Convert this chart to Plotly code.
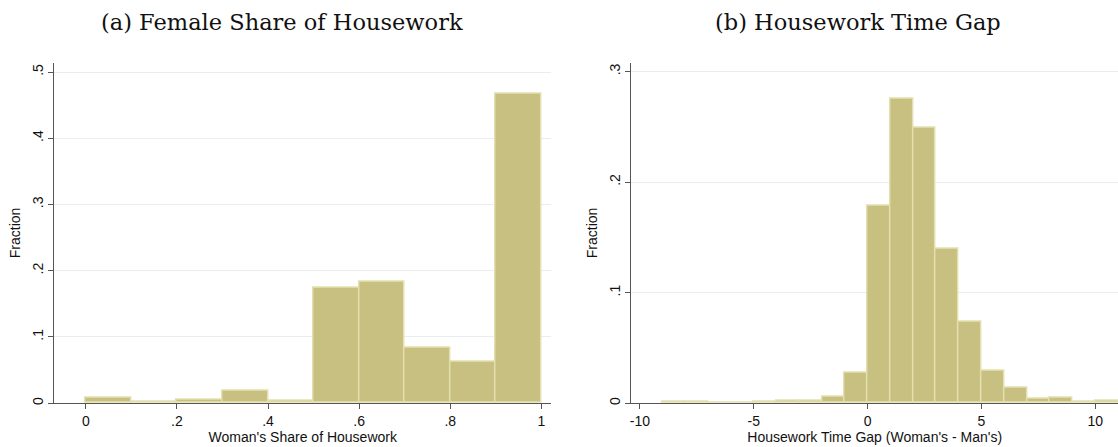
import plotly.graph_objects as go

# Panel (a): Woman's share of housework, bins of width 0.1
share_left_edges = [0.0, 0.1, 0.2, 0.3, 0.4, 0.5, 0.6, 0.7, 0.8, 0.9]
share_fraction = [0.0085, 0.0015, 0.0045, 0.0195, 0.0035, 0.175, 0.183, 0.083, 0.062, 0.467]
share_bin_width = 0.1

# Panel (b): Housework time gap, bins of width 1
gap_left_edges = [-9, -8, -7, -6, -5, -4, -3, -2, -1, 0, 1, 2, 3, 4, 5, 6, 7, 8, 9, 10]
gap_fraction = [0.0012, 0.0012, 0.0, 0.0, 0.001, 0.0018, 0.0018, 0.0054, 0.0274, 0.1788,
                0.2756, 0.2495, 0.1395, 0.0736, 0.029, 0.0141, 0.0039, 0.0048, 0.001, 0.0018]
gap_bin_width = 1

share_ticks = [0, 0.2, 0.4, 0.6, 0.8, 1]
share_ticklabels = ["0", ".2", ".4", ".6", ".8", "1"]
share_yticks = [0, 0.1, 0.2, 0.3, 0.4, 0.5]
share_yticklabels = ["0", ".1", ".2", ".3", ".4", ".5"]
gap_ticks = [-10, -5, 0, 5, 10]
gap_ticklabels = ["-10", "-5", "0", "5", "10"]
gap_yticks = [0, 0.1, 0.2, 0.3]
gap_yticklabels = ["0", ".1", ".2", ".3"]

titles = ["(a) Female Share of Housework", "(b) Housework Time Gap"]
xtitles = ["Woman's Share of Housework", "Housework Time Gap (Woman's - Man's)"]

FILL = "#c8c080"
EDGE = "#e3dfb0"
AXIS = "#555555"
GRID = "#e6eef2"

fig = go.Figure()
fig.add_trace(go.Bar(
    x=[e + share_bin_width / 2 for e in share_left_edges], y=share_fraction,
    width=share_bin_width, marker=dict(color=FILL, line=dict(color=EDGE, width=1.5)),
    xaxis="x", yaxis="y", showlegend=False, hoverinfo="x+y"))
fig.add_trace(go.Bar(
    x=[e + gap_bin_width / 2 for e in gap_left_edges], y=gap_fraction,
    width=gap_bin_width, marker=dict(color=FILL, line=dict(color=EDGE, width=1.5)),
    xaxis="x2", yaxis="y2", showlegend=False, hoverinfo="x+y"))

tickfont = dict(family="Liberation Sans, Arial, sans-serif", size=14, color="#111111")
common_x = dict(showline=True, linecolor=AXIS, linewidth=1.3, ticks="outside", ticklen=5,
                tickcolor=AXIS, tickwidth=1.3, showgrid=False, zeroline=False,
                tickfont=tickfont, title_standoff=0)
common_y = dict(showline=True, linecolor=AXIS, linewidth=1.3, ticks="outside", ticklen=5,
                tickcolor=AXIS, tickwidth=1.3, showgrid=True, gridcolor=GRID, gridwidth=1.3,
                zeroline=False, tickfont=tickfont, tickangle=-90, title_standoff=5)

fig.update_layout(
    width=1118, height=447,
    margin=dict(l=0, r=0, t=0, b=0),
    paper_bgcolor="white", plot_bgcolor="white",
    bargap=0,
    xaxis=dict(common_x, domain=[0.047, 0.492], range=[-0.0688, 1.0213],
               tickvals=share_ticks, ticktext=share_ticklabels,
               title=dict(text=xtitles[0], font=tickfont), anchor="y"),
    yaxis=dict(common_y, domain=[0.094, 0.859], range=[0, 0.514],
               tickvals=share_yticks, ticktext=share_yticklabels,
               title=dict(text="Fraction", font=tickfont), anchor="x"),
    xaxis2=dict(common_x, domain=[0.564, 1.0], range=[-10.37, 11.0],
                tickvals=gap_ticks, ticktext=gap_ticklabels,
                title=dict(text=xtitles[1], font=tickfont), anchor="y2"),
    yaxis2=dict(common_y, domain=[0.094, 0.859], range=[0, 0.308],
                tickvals=gap_yticks, ticktext=gap_yticklabels,
                title=dict(text="Fraction", font=tickfont), anchor="x2"),
    annotations=[
        dict(text=titles[0], x=281 / 1118, y=1 - 22 / 447, xref="paper", yref="paper",
             showarrow=False, xanchor="center", yanchor="middle",
             font=dict(family="DejaVu Serif, Liberation Serif, serif", size=22.5, color="#111111")),
        dict(text=titles[1], x=858 / 1118, y=1 - 22 / 447, xref="paper", yref="paper",
             showarrow=False, xanchor="center", yanchor="middle",
             font=dict(family="DejaVu Serif, Liberation Serif, serif", size=22.5, color="#111111")),
    ],
)

fig.write_html("out.html", config={"displayModeBar": False},
               post_script="document.body.style.margin='0';document.body.style.overflow='hidden';")
